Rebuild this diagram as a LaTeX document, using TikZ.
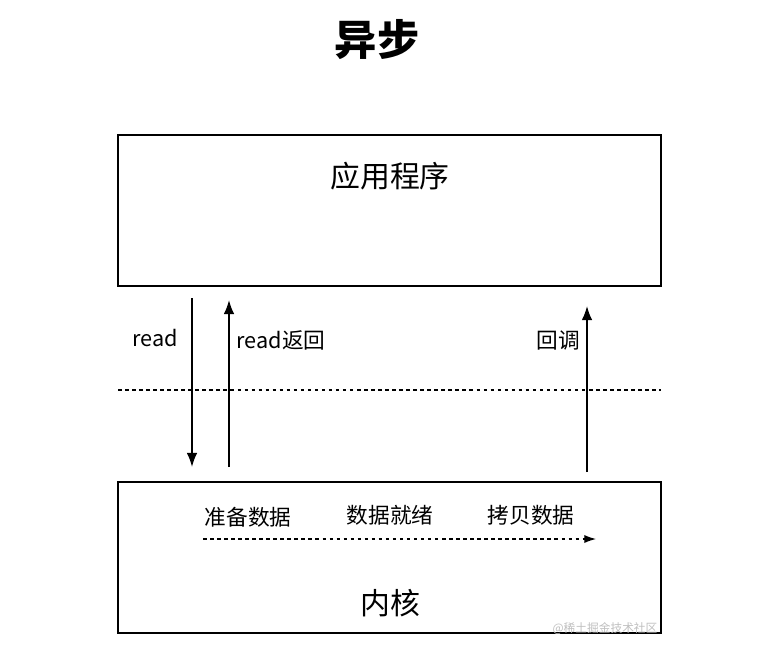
\documentclass[tikz,border=0pt]{standalone}
\usepackage{fontspec}
\setmainfont{Noto Sans CJK SC}
\usetikzlibrary{arrows.meta}
\begin{document}
\begin{tikzpicture}[x=0.03cm,y=-0.03cm,
  box/.style={draw,line width=1.6pt},
  lbl/.style={font=\fontsize{18.5}{22}\selectfont},
  arr/.style={line width=1.4pt,-{Latex[length=12pt,width=9pt]}}]
\useasboundingbox (0,0) rectangle (769,656);
\node (title) at (377,40) {\fontsize{36}{40}\selectfont\bfseries 异步};
\draw[box] (118,135) rectangle (661,286);
\node (app) at (390,176) {\fontsize{25.5}{30}\selectfont 应用程序};
\draw[box] (118,482) rectangle (661,633);
\node (kern) at (390,603) {\fontsize{25.5}{30}\selectfont 内核};
\coordinate (dl) at (118,390); \coordinate (dr) at (661,390);
\draw[dashed,line width=1pt] (dl) -- (dr);
\coordinate (a1) at (192,298); \coordinate (b1) at (192,467);
\draw[arr] (a1) -- (b1);
\node[lbl] (r) at (155,338) {read};
\coordinate (a2) at (229,467); \coordinate (b2) at (229,300);
\draw[arr] (a2) -- (b2);
\node[lbl] (rr) at (281,340) {read返回};
\coordinate (a3) at (587,472); \coordinate (b3) at (587,306);
\draw[arr] (a3) -- (b3);
\node[lbl] (cb) at (558,340) {回调};
\node[lbl] (p1) at (248,517) {准备数据};
\node[lbl] (p2) at (390,515) {数据就绪};
\node[lbl] (p3) at (531,515) {拷贝数据};
\coordinate (d1) at (203,539); \coordinate (d2) at (596,539);
\draw[dashed,line width=1pt,-{Latex[length=10pt,width=7pt]}] (d1) -- (d2);
\node[text=gray!50,font=\fontsize{10}{12}\selectfont] (wm) at (605,629) {@稀土掘金技术社区};
\end{tikzpicture}
\end{document}
